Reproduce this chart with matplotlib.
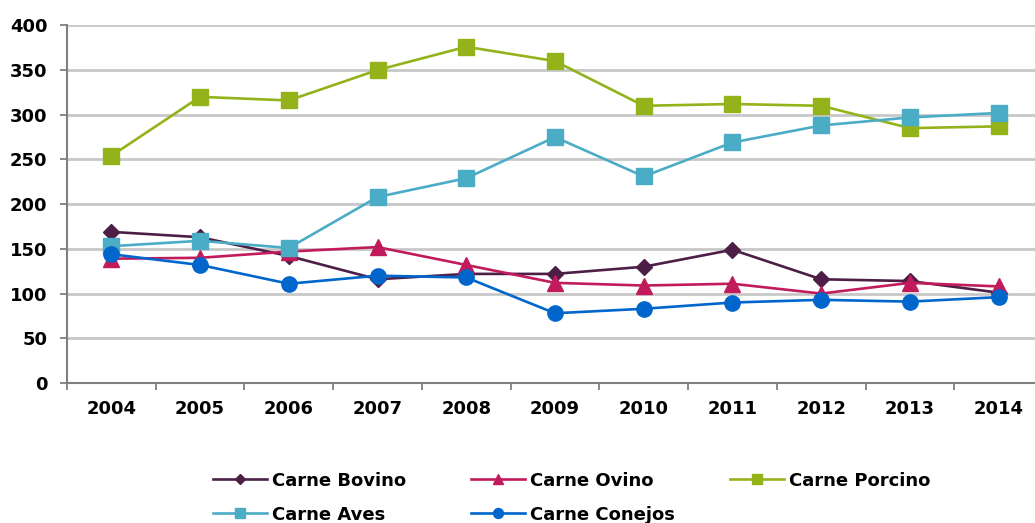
import matplotlib
matplotlib.use("Agg")
import matplotlib.pyplot as plt

# Data
years = ["2004", "2005", "2006", "2007", "2008", "2009", "2010", "2011", "2012", "2013", "2014"]
bovino = [169, 163, 142, 116, 122, 122, 130, 149, 116, 114, 101]
ovino = [139, 140, 147, 152, 132, 112, 109, 111, 100, 112, 108]
porcino = [254, 320, 316, 350, 376, 360, 310, 312, 310, 285, 287]
aves = [153, 159, 151, 208, 229, 275, 231, 269, 288, 297, 302]
conejos = [144, 132, 111, 120, 118, 78, 83, 90, 93, 91, 96]

plt.rcParams['font.family'] = ['DejaVu Sans']
plt.rcParams['font.weight'] = 'bold'

fig = plt.figure(figsize=(10.35, 5.23), dpi=100)
ax = fig.add_axes([0.0647, 0.2677, 0.9353, 0.6839])

x = list(range(len(years)))
lw = 1.9
series = [
    ("Carne Bovino", bovino, "#4d1f47", "D", 8.5),
    ("Carne Ovino", ovino, "#c21b5b", "^", 11),
    ("Carne Porcino", porcino, "#94b31a", "s", 11),
    ("Carne Aves", aves, "#4bacc6", "s", 11),
    ("Carne Conejos", conejos, "#0066cc", "o", 11),
]
handles = {}
for name, vals, col, mk, ms in series:
    h, = ax.plot(x, vals, color=col, lw=lw, marker=mk, markersize=ms,
                 markeredgecolor=col, label=name, clip_on=False, zorder=3)
    handles[name] = h

ax.set_yticks(range(0, 401, 50))
ax.set_xticks(x)
ax.set_xticklabels(years)
ax.set_xticks([i - 0.5 for i in range(12)], minor=True)
# limits after ticks, set_xticks would widen them
ax.set_ylim(0, 400)
ax.set_xlim(-0.5, 10.41)
ax.tick_params(axis='x', which='major', length=0, pad=12, labelsize=13)
ax.tick_params(axis='x', which='minor', length=5, color='#808080', width=1.3)
ax.tick_params(axis='y', length=5, color='#808080', width=1.3, labelsize=13, pad=9)
for lab in ax.get_xticklabels() + ax.get_yticklabels():
    lab.set_fontweight('bold')

ax.grid(axis='y', color='#c8c8c8', lw=2)
ax.set_axisbelow(True)
for s in ['top', 'right']:
    ax.spines[s].set_visible(False)
for s in ['left', 'bottom']:
    ax.spines[s].set_color('#808080')
    ax.spines[s].set_linewidth(1.5)

# legend laid out as fixed-width columns, one legend per column
columns = [["Carne Bovino", "Carne Aves"], ["Carne Ovino", "Carne Conejos"], ["Carne Porcino"]]
col_x = [213, 471, 730]
for names, px in zip(columns, col_x):
    leg = fig.legend([handles[n] for n in names], names, loc='upper left',
                     bbox_to_anchor=(px / 1035, 0.098), frameon=False,
                     prop={'weight': 'bold', 'size': 13},
                     handlelength=3.0, handletextpad=0.25, labelspacing=0.88,
                     borderpad=0, borderaxespad=0, markerscale=0.65)

fig.savefig("out.png", dpi=100)
